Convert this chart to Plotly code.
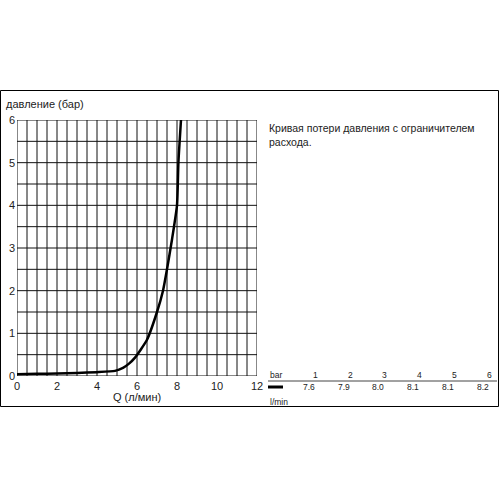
import plotly.graph_objects as go

# Curve data
flow = [0, 1, 2, 3, 4, 4.9, 5.3, 5.6, 5.9, 6.5, 7.0, 7.3, 7.5, 7.75, 8.0, 8.07, 8.2]
pressure = [0.04, 0.05, 0.06, 0.07, 0.09, 0.12, 0.19, 0.29, 0.43, 0.85, 1.5, 2.0, 2.5, 3.2, 4.0, 5.0, 6.0]

x_ticks = [0, 2, 4, 6, 8, 10, 12]
y_ticks = [0, 1, 2, 3, 4, 5, 6]

table_bar = ["1", "2", "3", "4", "5", "6"]
table_lmin = ["7.6", "7.9", "8.0", "8.1", "8.1", "8.2"]

title_y = "давление (бар)"
title_x = "Q (л/мин)"
note = "Кривая потери давления с ограничителем<br>расхода."

W, H = 500, 500
L, R, T, B = 17, 257, 120, 376  # plot area in pixels

def px(x):
    return (x - L) / (R - L)

def py(y):
    return (B - y) / (B - T)

FONT = "Liberation Sans, Arial, sans-serif"

fig = go.Figure()
fig.add_trace(go.Scatter(x=flow, y=pressure, mode="lines",
                         line=dict(color="black", width=2.5, shape="spline", smoothing=0.5),
                         showlegend=False, hoverinfo="skip", cliponaxis=True))

fig.update_layout(
    width=W, height=H,
    margin=dict(l=L, r=W - R, t=T, b=H - B, pad=0, autoexpand=False),
    paper_bgcolor="white", plot_bgcolor="white",
    font=dict(family=FONT, size=11, color="black"),
    xaxis=dict(range=[0, 12], tickvals=x_ticks, ticktext=[str(v) for v in x_ticks],
               showgrid=False, zeroline=False, showline=False, automargin=False,
               ticks="", ticklen=0, ticklabelstandoff=2, tickfont=dict(size=11, color="#222")),
    yaxis=dict(range=[0, 6], tickvals=y_ticks, ticktext=[str(v) for v in y_ticks],
               showgrid=False, zeroline=False, showline=False, automargin=False,
               ticks="", ticklabelstandoff=1, tickfont=dict(size=11, color="#222")),
)

shapes = []
# grid lines every 0.5
for i in range(25):
    xv = i * 0.5
    shapes.append(dict(type="line", xref="x", yref="y", x0=xv, x1=xv, y0=0, y1=6,
                       line=dict(color="#111", width=1), layer="below"))
for j in range(13):
    yv = j * 0.5
    shapes.append(dict(type="line", xref="x", yref="y", x0=0, x1=12, y0=yv, y1=yv,
                       line=dict(color="#111", width=1), layer="below"))
# outer frame
shapes.append(dict(type="rect", xref="paper", yref="paper",
                   x0=px(0.5), x1=px(498.5), y0=py(406.5), y1=py(90.5),
                   line=dict(color="black", width=1), fillcolor="rgba(0,0,0,0)"))
# table rule and legend dash
shapes.append(dict(type="line", xref="paper", yref="paper",
                   x0=px(268), x1=px(497), y0=py(381), y1=py(381),
                   line=dict(color="#444", width=1)))
shapes.append(dict(type="line", xref="paper", yref="paper",
                   x0=px(268), x1=px(283), y0=py(387), y1=py(387),
                   line=dict(color="black", width=3)))
fig.update_layout(shapes=shapes)

ann = []
def text(x, y, s, size=11, xanchor="left", color="#222"):
    ann.append(dict(xref="paper", yref="paper", x=px(x), y=py(y), text=s,
                    showarrow=False, xanchor=xanchor, yanchor="middle",
                    font=dict(family=FONT, size=size, color=color), align="left"))

text(4, 104, title_y, size=11)
text(137, 397, title_x, size=11, xanchor="center")
ann.append(dict(xref="paper", yref="paper", x=px(267), y=py(120), text=note,
                showarrow=False, xanchor="left", yanchor="top", align="left",
                font=dict(family=FONT, size=10.5, color="#222")))
text(268, 375, "bar", size=8.5)
text(268, 402, "l/min", size=8.5)
top_right = [320, 355, 389, 424, 459, 494]
for xr, a, b in zip(top_right, table_bar, table_lmin):
    text(xr, 375, a, size=8.5, xanchor="right")
    text(xr - 3, 387, b, size=8.5, xanchor="right")
fig.update_layout(annotations=ann)

fig.write_html("out.html", config={"displayModeBar": False},
               post_script="document.body.style.margin='0';document.body.style.overflow='hidden';")
